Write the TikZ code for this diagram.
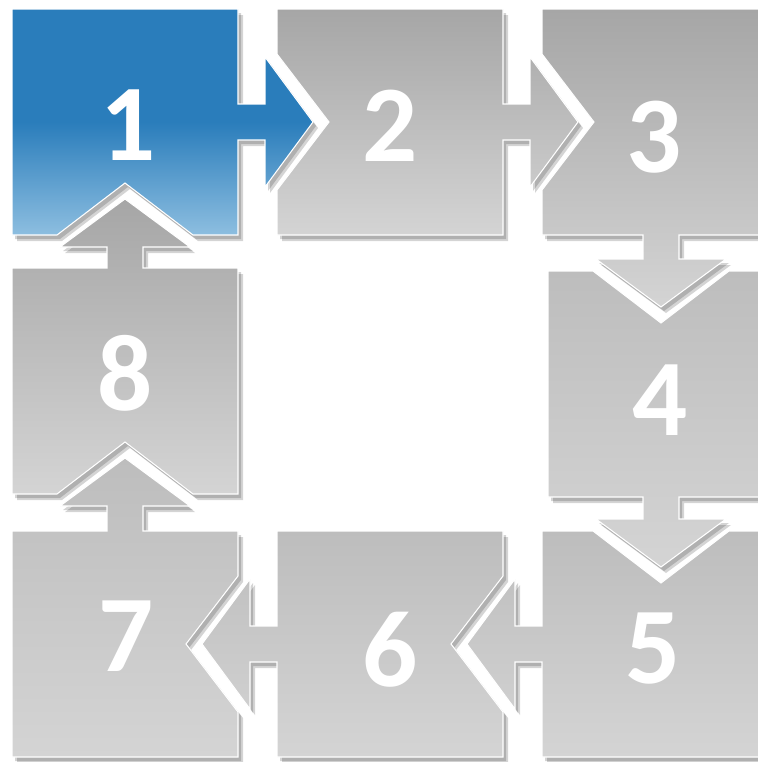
\documentclass[tikz,border=0pt]{standalone}
\usepackage{fontspec}
\newfontfamily\numfont{Carlito}
\usepackage{tikz}

\definecolor{boxblue}{HTML}{2A7DBB}
\definecolor{boxbluelight}{HTML}{8DBEE0}
\definecolor{boxgray}{HTML}{A6A6A6}
\definecolor{boxgraymid}{HTML}{BDBDBD}
\definecolor{boxgraylight}{HTML}{D4D4D4}
\pgfdeclareverticalshading{blueshade}{100bp}{color(0bp)=(boxbluelight); color(25bp)=(boxbluelight); color(50bp)=(boxblue); color(100bp)=(boxblue)}

\begin{document}
\begin{tikzpicture}[
    x=0.02cm, y=-0.02cm,
    shadowbox/.style={fill=black, opacity=0.17},
    stepbox/.style={draw=white, line width=0.6pt, top color=boxgray, bottom color=boxgraylight},
    lowbox/.style={stepbox, top color=boxgraymid},
    firstbox/.style={draw=white, line width=0.6pt, shading=blueshade},
    num/.style={text=white, inner sep=0pt, font=\numfont\bfseries\fontsize{62}{62}\selectfont}
]
    \useasboundingbox (0,0) rectangle (758,762);
    \clip (0,0) rectangle (758,762);

    % square + notch for the incoming head + outgoing arrow
    \def\boxone{(12,9) -- (238,9) -- (238,104) -- (265,104) -- (265,57) -- (313,122) -- (265,187) -- (265,140) -- (238,140) -- (238,235) -- (193,235) -- (125,183) -- (57,235) -- (12,235) -- cycle}
    \def\boxtwo{(277,9) -- (503,9) -- (503,104) -- (530,104) -- (530,57) -- (578,122) -- (530,187) -- (530,140) -- (503,140) -- (503,235) -- (277,235) -- (277,190) -- (329,122) -- (277,54) -- cycle}
    \def\boxthree{(542,9) -- (768,9) -- (768,235) -- (679,235) -- (679,259) -- (726,259) -- (661,307) -- (596,259) -- (643,259) -- (643,235) -- (542,235) -- (542,190) -- (594,122) -- (542,54) -- cycle}
    \def\boxfour{(548,271) -- (593,271) -- (661,323) -- (729,271) -- (774,271) -- (774,497) -- (679,497) -- (679,519) -- (726,519) -- (661,567) -- (596,519) -- (643,519) -- (643,497) -- (548,497) -- cycle}
    \def\boxfive{(542,531) -- (593,531) -- (661,583) -- (729,531) -- (768,531) -- (768,757) -- (542,757) -- (542,662) -- (515,662) -- (515,709) -- (467,644) -- (515,579) -- (515,626) -- (542,626) -- cycle}
    \def\boxsix{(277,531) -- (503,531) -- (503,576) -- (451,644) -- (503,712) -- (503,757) -- (277,757) -- (277,662) -- (250,662) -- (250,709) -- (202,644) -- (250,579) -- (250,626) -- (277,626) -- cycle}
    \def\boxseven{(12,531) -- (107,531) -- (107,506) -- (60,506) -- (125,458) -- (190,506) -- (143,506) -- (143,531) -- (238,531) -- (238,576) -- (186,644) -- (238,712) -- (238,757) -- (12,757) -- cycle}
    \def\boxeight{(12,268) -- (107,268) -- (107,247) -- (60,247) -- (125,199) -- (190,247) -- (143,247) -- (143,268) -- (238,268) -- (238,494) -- (193,494) -- (125,442) -- (57,494) -- (12,494) -- cycle}

    % soft shadows first
    \foreach \b in {\boxone,\boxtwo,\boxthree,\boxfour,\boxfive,\boxsix,\boxseven,\boxeight}{
        \fill[shadowbox, shift={(3,4)}] \b;
        \fill[shadowbox, shift={(5,6)}] \b;
    }

    \path[firstbox] \boxone;
    \path[stepbox] \boxtwo;
    \path[stepbox] \boxthree;
    \path[lowbox] \boxfour;
    \path[lowbox] \boxfive;
    \path[lowbox] \boxsix;
    \path[lowbox] \boxseven;
    \path[stepbox] \boxeight;

    \node[num] (one) at (128,125) {1};
    \node[num] (two) at (390,126) {2};
    \node[num] (three) at (654,137) {3};
    \node[num] (four) at (660,400) {4};
    \node[num] (five) at (653,649) {5};
    \node[num] (six) at (390,650) {6};
    \node[num] (seven) at (126,636) {7};
    \node[num] (eight) at (125,373) {8};
\end{tikzpicture}
\end{document}
